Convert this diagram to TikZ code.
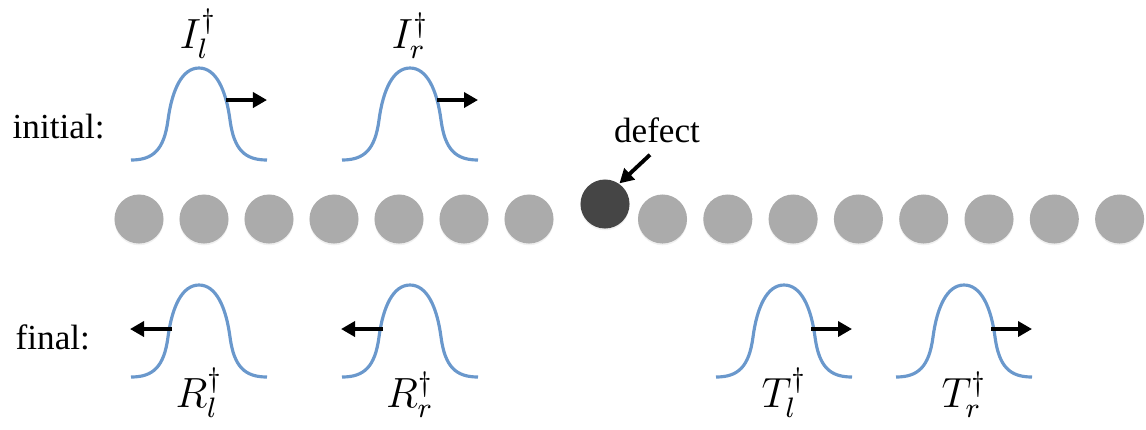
\documentclass[tikz,border=0pt]{standalone}
\usepackage{fontspec}
\setmainfont{Liberation Serif}
\DeclareMathSizes{11.5}{11.5}{8.5}{7}
\usetikzlibrary{arrows.meta, positioning, shadows}
\definecolor{chainGray}{HTML}{ABABAB}
\definecolor{defectGray}{HTML}{454545}
\definecolor{waveBlue}{HTML}{6A98CC}

\begin{document}
\begin{tikzpicture}[
  x=0.01cm, y=0.01cm,
  ball/.style={circle, fill=chainGray, minimum size=0.49cm, inner sep=0pt,
               drop shadow={shadow xshift=0pt, shadow yshift=-0.5pt, opacity=0.12}},
  imp/.style={ball, fill=defectGray},
  wave/.style={draw=waveBlue, line width=0.9pt, line join=round},
  mv/.style={-{Triangle[length=1.4mm, width=1.5mm]}, line width=1.1pt},
  tag/.style={inner sep=0pt, anchor=base west},
  lbl/.style={font=\fontsize{11.5}{13}\selectfont, anchor=base},
  pics/pulse/.style={code={
    \draw[wave] (-68,0) .. controls (-46,0) and (-35,10) .. (-31,40)
      .. controls (-27,70) and (-17,92) .. (0,92)
      .. controls (17,92) and (27,70) .. (31,40)
      .. controls (35,10) and (46,0) .. (68,0);
    \coordinate (-l) at (-27, #1);
    \coordinate (-r) at (27, #1);
    \coordinate (-lt) at (-69, #1);
    \coordinate (-rt) at (68, #1);
  }}
]
\useasboundingbox (0,0) rectangle (1146,429);

% chain of sites, defect in the middle
\foreach \i in {1,...,7}
  \node[ball] (b\i) at ({139+65*(\i-1)}, 210) {};
\node[imp] (def) at (605,225) {};
\foreach \i in {1,...,8}
  \node[ball] (c\i) at ({662.5+65.3*(\i-1)}, 210) {};

\node[anchor=base] (dtxt) at (657,287) {defect};
\draw[mv] ([xshift=-0.07cm]dtxt.south) -- (def.55);

% incoming wave packets
\node[tag] (ini) at (12,291) {initial:};
\pic (il) at (199,269) {pulse=60};
\pic (ir) at (410,269) {pulse=60};
\draw[mv] (il-r) -- (il-rt);
\draw[mv] (ir-r) -- (ir-rt);
\node[lbl] (Il) at (198,381) {$I_l^\dagger$};
\node[lbl] (Ir) at (410,381) {$I_r^\dagger$};

% outgoing wave packets
\node[tag] (fin) at (15,80) {final:};
\pic (rl) at (199,52) {pulse=48};
\pic (rr) at (410,52) {pulse=48};
\pic (tl) at (784,52) {pulse=48};
\pic (tr) at (964,52) {pulse=48};
\draw[mv] (rl-l) -- (rl-lt);
\draw[mv] (rr-l) -- (rr-lt);
\draw[mv] (tl-r) -- (tl-rt);
\draw[mv] (tr-r) -- (tr-rt);
\node[lbl] (Rl) at (199,22) {$R_l^\dagger$};
\node[lbl] (Rr) at (410,22) {$R_r^\dagger$};
\node[lbl] (Tl) at (784,22) {$T_l^\dagger$};
\node[lbl] (Tr) at (964,22) {$T_r^\dagger$};
\end{tikzpicture}
\end{document}
